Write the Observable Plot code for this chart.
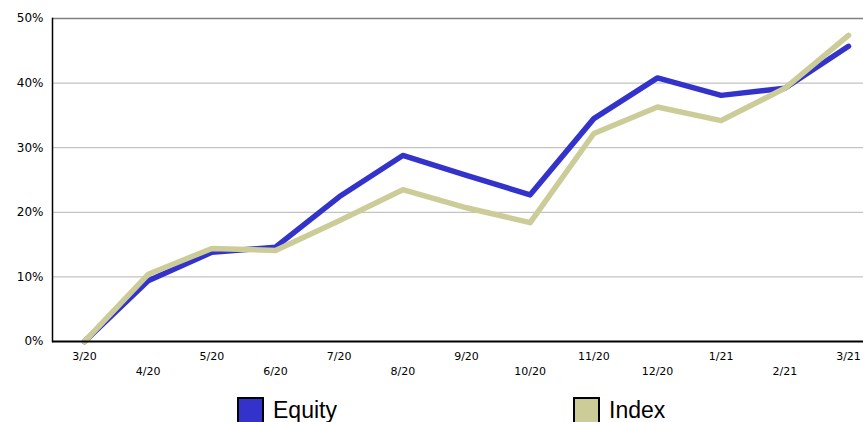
<!DOCTYPE html>
<html>
<head>
<meta charset="utf-8">
<script src="https://cdn.jsdelivr.net/npm/d3@7"></script>
<script src="https://cdn.jsdelivr.net/npm/@observablehq/plot@0.6"></script>
<style>
  body { margin: 0; background: #fff; }
  #wrap { position: relative; width: 863px; height: 422px; overflow: hidden; }
  .legend { position: absolute; top: 397px; display: flex; align-items: center; font-family: "Liberation Sans", Arial, sans-serif; font-size: 23px; color: #000; }
  .sw { width: 23px; height: 23px; border: 2px solid #000; margin-right: 9px; box-sizing: content-box; }
</style>
</head>
<body>
<div id="wrap"></div>
<script>
const months = ["3/20","4/20","5/20","6/20","7/20","8/20","9/20","10/20","11/20","12/20","1/21","2/21","3/21"];
const equity = [0, 9.4, 13.8, 14.6, 22.4, 28.8, 25.7, 22.7, 34.5, 40.8, 38.1, 39.2, 45.7];
const index  = [0, 10.4, 14.4, 14.1, 18.7, 23.5, 20.7, 18.4, 32.2, 36.3, 34.2, 39.2, 47.4];
const seriesNames = ["Equity", "Index"];
const seriesColors = ["#3333cc", "#cccc99"];
const yTicks = [0, 10, 20, 30, 40, 50];

const data = [];
months.forEach((m, i) => data.push({month: m, value: equity[i], series: "Equity"}));
months.forEach((m, i) => data.push({month: m, value: index[i], series: "Index"}));

const rowA = months.filter((d, i) => i % 2 === 0);
const rowB = months.filter((d, i) => i % 2 === 1);

const chart = Plot.plot({
  width: 863,
  height: 390,
  marginLeft: 52,
  marginRight: 0,
  marginTop: 18,
  marginBottom: 49,
  style: {fontFamily: "DejaVu Sans, Verdana, sans-serif", fontSize: "11px", background: "#fff", color: "#000"},
  x: {type: "point", domain: months, range: [84, 848], padding: 0, round: false, axis: null},
  y: {domain: [0, 50], axis: null},
  color: {domain: seriesNames, range: seriesColors},
  marks: [
    Plot.ruleY(yTicks.filter(d => d > 0 && d < 50), {stroke: "#b4b4b4", strokeWidth: 1}),
    Plot.ruleY([50], {stroke: "#808080", strokeWidth: 1.5}),
    Plot.axisY({ticks: yTicks, tickFormat: d => d + "%", tickSize: 0, tickPadding: 9, fontSize: 12, label: null}),
    Plot.axisX({ticks: rowA, tickSize: 0, tickPadding: 11, fontSize: 11, label: null}),
    Plot.axisX({ticks: rowB, tickSize: 0, tickPadding: 26, fontSize: 11, label: null}),
    Plot.line(data, {x: "month", y: "value", stroke: "series", z: "series", strokeWidth: 5.5, strokeLinecap: "round", strokeLinejoin: "round"}),
    Plot.ruleY([0], {stroke: "#000", strokeWidth: 2}),
    Plot.frame({anchor: "left", stroke: "#000", strokeWidth: 1.5})
  ]
});

const wrap = document.getElementById("wrap");
wrap.appendChild(chart);
const lefts = [237, 573];
seriesNames.forEach((name, i) => {
  const item = document.createElement("div");
  item.className = "legend";
  item.style.left = lefts[i] + "px";
  const sw = document.createElement("div");
  sw.className = "sw";
  sw.style.background = seriesColors[i];
  const t = document.createElement("span");
  t.textContent = name;
  item.appendChild(sw);
  item.appendChild(t);
  wrap.appendChild(item);
});
</script>
</body>
</html>
